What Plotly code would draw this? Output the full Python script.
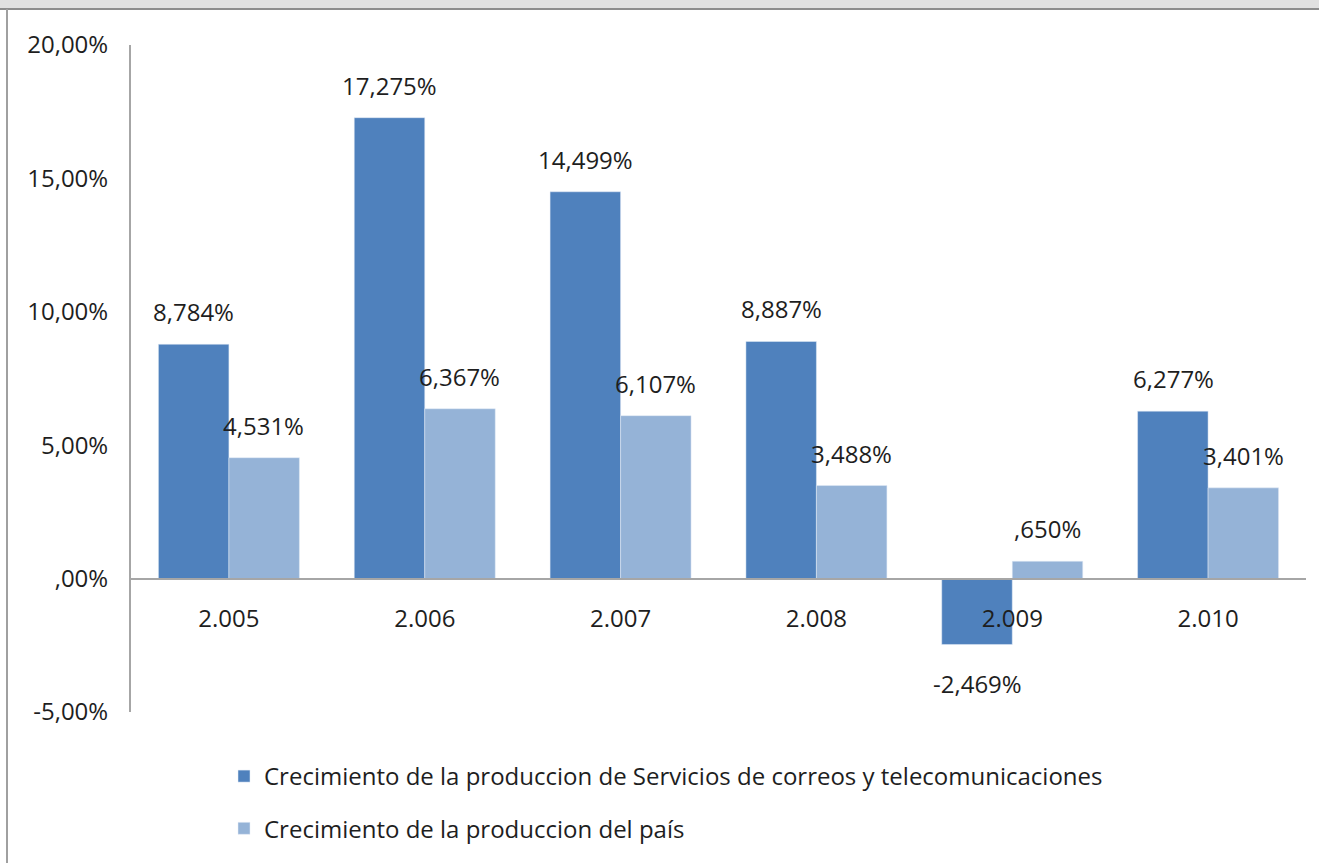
import plotly.graph_objects as go

years = ['2.005', '2.006', '2.007', '2.008', '2.009', '2.010']
servicios = [8.784, 17.275, 14.499, 8.887, -2.469, 6.277]
pais = [4.531, 6.367, 6.107, 3.488, 0.650, 3.401]
y_ticks = [-5, 0, 5, 10, 15, 20]

nombre_servicios = 'Crecimiento de la produccion de Servicios de correos y telecomunicaciones'
nombre_pais = 'Crecimiento de la produccion del país'

colors = {
    'dark': '#4F81BD',
    'light': '#95B3D7',
    'text': '#1E1E1E',
    'axis': '#A6A6A6',
}
font_family = 'Open Sans'

W, H = 1319, 863
L, R, T, B = 131, 13, 45, 151
PW, PH = W - L - R, H - T - B


def pct(v, decimals):
    s = f"{v:.{decimals}f}".replace('.', ',')
    if s.startswith('0,'):
        s = s[1:]
    elif s.startswith('-0,'):
        s = '-' + s[2:]
    return s + '%'


def px_x(p):
    return (p - L) / PW


def px_y(p):
    return (H - B - p) / PH


fig = go.Figure()
fig.add_trace(go.Bar(x=years, y=servicios, name=nombre_servicios,
                     marker_color=colors['dark'], legendgroup='a'))
fig.add_trace(go.Bar(x=years, y=pais, name=nombre_pais,
                     marker_color=colors['light'], legendgroup='b'))

annotations = []
for serie, shift in ((servicios, -35), (pais, 35)):
    for i, v in enumerate(serie):
        annotations.append(dict(
            x=i, y=v, xref='x', yref='y', text=pct(v, 3), showarrow=False,
            xshift=shift, yshift=14 if v >= 0 else -21,
            yanchor='bottom' if v >= 0 else 'top',
            font=dict(size=24, color=colors['text'], family=font_family)))

fig.update_layout(
    width=W, height=H,
    margin=dict(l=L, r=R, t=T, b=B, autoexpand=False),
    paper_bgcolor='white', plot_bgcolor='white',
    barmode='group', bargap=0.28, bargroupgap=0,
    font=dict(family=font_family, size=24, color=colors['text']),
    annotations=annotations,
    legend=dict(
        orientation='v', x=px_x(224), y=px_y(754), xanchor='left', yanchor='top',
        traceorder='grouped', tracegroupgap=18,
        font=dict(size=24, color=colors['text']), bgcolor='rgba(0,0,0,0)'),
    shapes=[
        dict(type='rect', xref='paper', yref='paper', x0=px_x(0), x1=px_x(W),
             y0=px_y(0), y1=px_y(8), fillcolor='#E0E0E0', line_width=0, layer='below'),
        dict(type='line', xref='paper', yref='paper', x0=px_x(0), x1=px_x(W),
             y0=px_y(9), y1=px_y(9), line=dict(color='#8C8C8C', width=2)),
        dict(type='line', xref='paper', yref='paper', x0=px_x(7), x1=px_x(7),
             y0=px_y(9), y1=px_y(H), line=dict(color='#A0A0A0', width=2)),
    ],
)

fig.update_xaxes(
    type='category', anchor='free', position=0.2,
    showline=True, linecolor=colors['axis'], linewidth=2,
    ticks='', showgrid=False, ticklabelstandoff=19,
    tickfont=dict(size=24, color=colors['text']))

fig.update_yaxes(
    range=[-5, 20], tickvals=y_ticks, ticktext=[pct(v, 2) for v in y_ticks],
    showline=True, linecolor=colors['axis'], linewidth=2,
    showgrid=False, zeroline=False, ticks='', ticklabelstandoff=16,
    tickfont=dict(size=24, color=colors['text']))

fig.write_html('out.html', config={'displayModeBar': False},
               post_script="document.body.style.margin='0';")
